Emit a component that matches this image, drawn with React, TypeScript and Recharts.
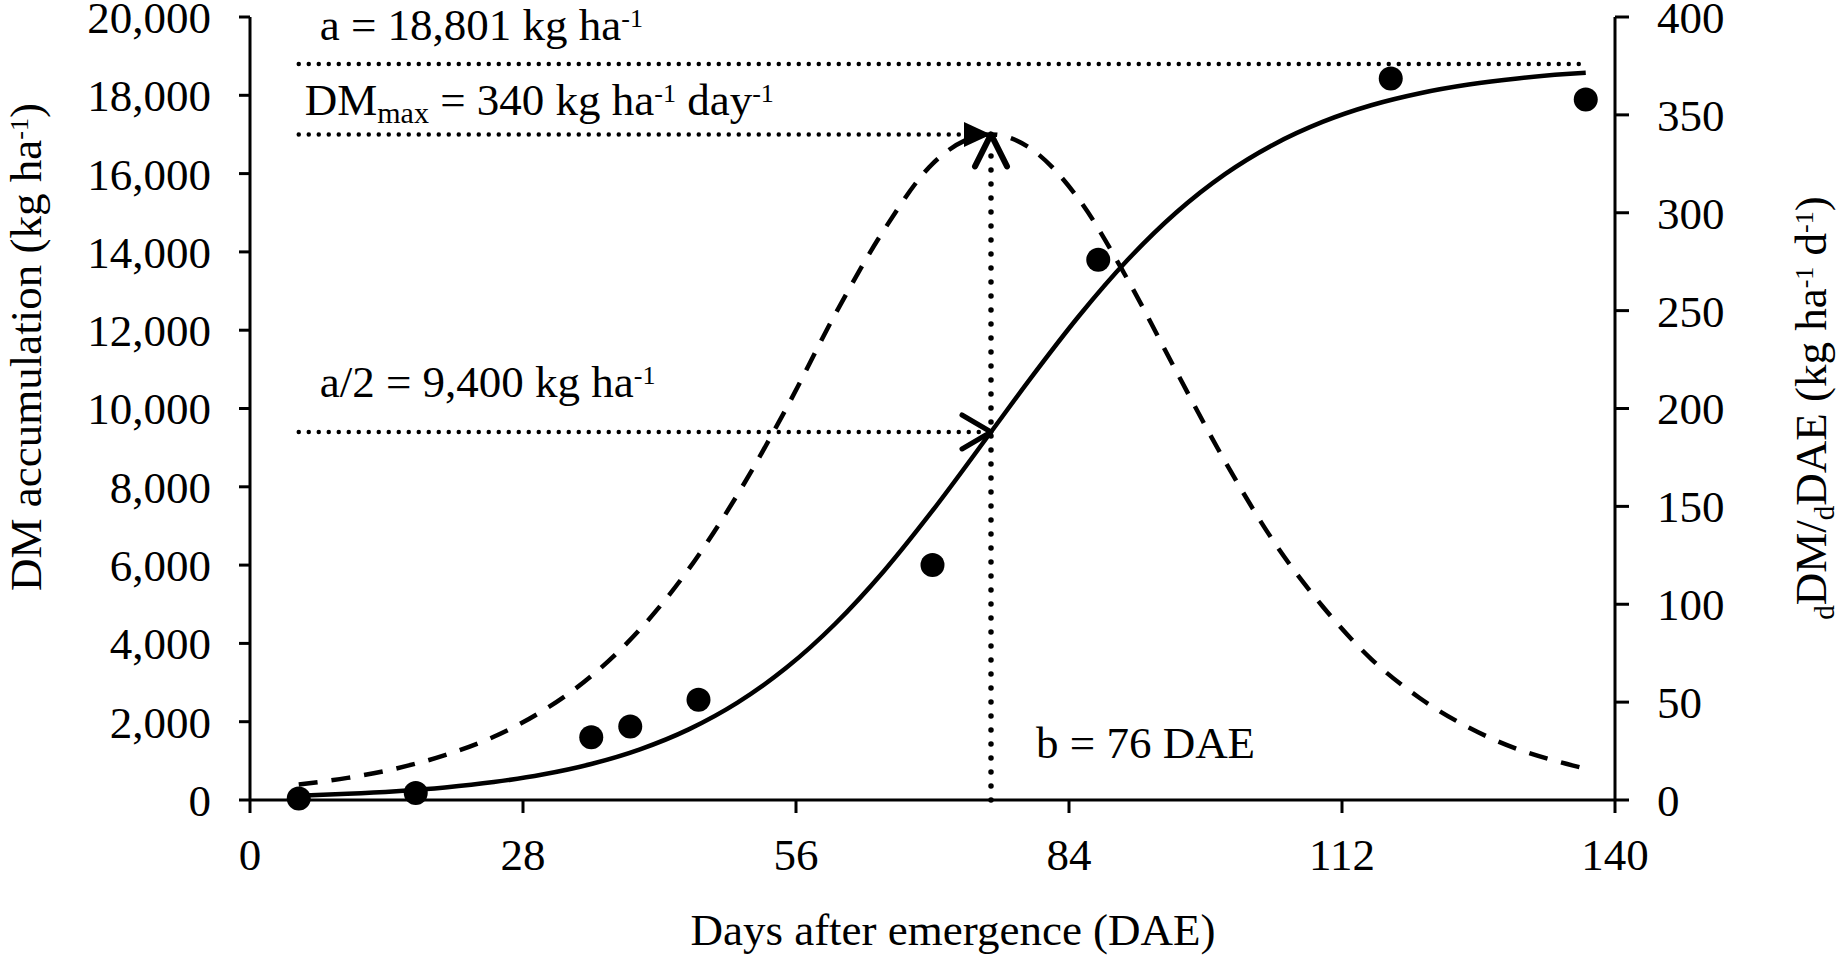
import React from "react";
import {
  ComposedChart,
  XAxis,
  YAxis,
  Line,
  Scatter,
  ReferenceLine,
  Label,
} from "recharts";

const curveDays = [5, 10, 15, 20, 25, 30, 35, 40, 45, 50, 55, 60, 65, 70, 76, 80, 85, 90, 95, 100, 105, 110, 115, 120, 125, 130, 135, 137];
// fitted DM accumulation (kg ha-1), solid line, left axis
const dmFitted = [110, 157, 225, 321, 458, 651, 920, 1294, 1804, 2487, 3375, 4495, 5844, 7390, 9400, 10751, 12357, 13792, 15006, 15986, 16746, 17321, 17746, 18053, 18274, 18431, 18542, 18576];
// DM rate (kg ha-1 d-1), dashed line, right axis
const rateFitted = [7.9, 11.3, 16.1, 22.9, 32.3, 45.5, 63.3, 87.2, 118, 156, 200, 248, 291, 325, 340, 333, 307, 266, 219, 173, 132, 99, 72, 52, 37, 26, 18.5, 16];

// measured DM accumulation
const obsDays = [5, 17, 35, 39, 46, 70, 87, 117, 137];
const obsDm = [40, 180, 1600, 1880, 2560, 6000, 13800, 18430, 17890];

const xTicks = [0, 28, 56, 84, 112, 140];
const leftTicks = [0, 2000, 4000, 6000, 8000, 10000, 12000, 14000, 16000, 18000, 20000];
const rightTicks = [0, 50, 100, 150, 200, 250, 300, 350, 400];

// fitted parameters marked on the chart
const aValue = 18801;
const halfA = 9400;
const bDay = 76;
const dmMax = 340;
const guideStart = 5;
const guideEnd = 137;

const fitRows = curveDays.map((d, i) => ({ dae: d, dm: dmFitted[i], rate: rateFitted[i] }));
const obsRows = obsDays.map((d, i) => ({ dae: d, dm: obsDm[i] }));

const FONT = "'Liberation Serif', 'Times New Roman', serif";
const FS = 45;
const SUP = 26; // superscript size
const SUB = 29; // subscript size
const UP = 13; // superscript raise

const tickStyle = { fontSize: FS, fontFamily: FONT, fill: "#000" };
const axisLine = { stroke: "#000", strokeWidth: 3 };

const dottedH = { stroke: "#000", strokeWidth: 4.5, strokeLinecap: "round" as const, strokeDasharray: "0 10" };
const dottedV = { stroke: "#000", strokeWidth: 5.5, strokeLinecap: "round" as const, strokeDasharray: "0 14" };

const txt = { fontFamily: FONT, fontSize: FS, fill: "#000" };

const aLine = (p: any) => {
  const left = Math.min(p.x1, p.x2);
  const right = Math.max(p.x1, p.x2);
  return (
    <g>
      <line x1={left} y1={p.y1} x2={right} y2={p.y1} {...dottedH} />
      <text x={left + 21} y={p.y1 - 24} {...txt}>
        <tspan>a = 18,801 kg ha</tspan>
        <tspan dy={-UP} fontSize={SUP}>-1</tspan>
      </text>
    </g>
  );
};

const maxLine = (p: any) => {
  const left = Math.min(p.x1, p.x2);
  const right = Math.max(p.x1, p.x2);
  const y = p.y1;
  return (
    <g>
      <line x1={left} y1={y} x2={right - 30} y2={y} {...dottedH} />
      <path d={`M${right - 27},${y - 12.5} L${right},${y} L${right - 27},${y + 12.5} Z`} fill="#000" />
      <text x={left + 6} y={y - 19} {...txt}>
        <tspan>DM</tspan>
        <tspan dy={8} fontSize={30}>max</tspan>
        <tspan dy={-8}> = 340 kg ha</tspan>
        <tspan dy={-UP} fontSize={SUP}>-1</tspan>
        <tspan dy={UP}> day</tspan>
        <tspan dy={-UP} fontSize={SUP}>-1</tspan>
      </text>
    </g>
  );
};

const halfLine = (p: any) => {
  const left = Math.min(p.x1, p.x2);
  const right = Math.max(p.x1, p.x2);
  const y = p.y1;
  return (
    <g>
      <line x1={left} y1={y} x2={right - 8} y2={y} {...dottedH} />
      <path
        d={`M${right - 29},${y - 17} L${right},${y} L${right - 29},${y + 17}`}
        fill="none"
        stroke="#000"
        strokeWidth={5}
        strokeLinecap="round"
        strokeLinejoin="round"
      />
      <text x={left + 21} y={y - 35} {...txt}>
        <tspan>a/2 = 9,400 kg ha</tspan>
        <tspan dy={-UP} fontSize={SUP}>-1</tspan>
      </text>
    </g>
  );
};

const bLine = (p: any) => {
  const x = p.x1;
  const top = Math.min(p.y1, p.y2);
  const bottom = Math.max(p.y1, p.y2);
  return (
    <g>
      <line x1={x} y1={bottom} x2={x} y2={top + 18} {...dottedV} />
      <path
        d={`M${x - 16},${top + 32} L${x},${top} L${x + 16},${top + 32}`}
        fill="none"
        stroke="#000"
        strokeWidth={6}
        strokeLinecap="round"
        strokeLinejoin="round"
      />
      <text x={x + 45} y={bottom - 42} {...txt}>
        b = 76 DAE
      </text>
    </g>
  );
};

const xTitle = () => (
  <text x={953} y={945} textAnchor="middle" {...txt}>
    Days after emergence (DAE)
  </text>
);

const leftTitle = () => (
  <text x={41} y={347} textAnchor="middle" transform="rotate(-90 41 347)" {...txt}>
    <tspan>DM accumulation (kg ha</tspan>
    <tspan dy={-UP} fontSize={SUP}>-1</tspan>
    <tspan dy={UP}>)</tspan>
  </text>
);

const rightTitle = () => (
  <text x={1826} y={408} textAnchor="middle" transform="rotate(-90 1826 408)" {...txt}>
    <tspan dy={8} fontSize={SUB}>d</tspan>
    <tspan dy={-8}>DM/</tspan>
    <tspan dy={8} fontSize={SUB}>d</tspan>
    <tspan dy={-8}>DAE (kg ha</tspan>
    <tspan dy={-UP} fontSize={SUP}>-1</tspan>
    <tspan dy={UP}> d</tspan>
    <tspan dy={-UP} fontSize={SUP}>-1</tspan>
    <tspan dy={UP}>)</tspan>
  </text>
);

const renderDot = (p: any) => <circle cx={p.cx} cy={p.cy} r={12} fill="#000" />;

export default function App() {
  return (
    <div style={{ position: "absolute", left: 0, top: 0, width: 1839, height: 955, background: "#fff" }}>
      <ComposedChart width={1839} height={955} margin={{ top: 17, right: 0, bottom: 0, left: 0 }}>
        <XAxis
          dataKey="dae"
          type="number"
          domain={[0, 140]}
          ticks={xTicks}
          height={155}
          tick={tickStyle}
          tickSize={13}
          tickMargin={25}
          axisLine={axisLine}
          tickLine={axisLine}
          interval={0}
        >
          <Label content={xTitle} />
        </XAxis>
        <YAxis
          yAxisId="left"
          dataKey="dm"
          type="number"
          domain={[0, 20000]}
          ticks={leftTicks}
          width={250}
          tick={tickStyle}
          tickSize={11}
          tickMargin={28}
          tickFormatter={(v: number) => v.toLocaleString("en-US")}
          axisLine={axisLine}
          tickLine={axisLine}
          interval={0}
        >
          <Label content={leftTitle} />
        </YAxis>
        <YAxis
          yAxisId="right"
          orientation="right"
          dataKey="rate"
          type="number"
          domain={[0, 400]}
          ticks={rightTicks}
          width={224}
          tick={tickStyle}
          tickSize={14}
          tickMargin={28}
          axisLine={axisLine}
          tickLine={axisLine}
          interval={0}
        >
          <Label content={rightTitle} />
        </YAxis>

        <Line
          data={fitRows}
          yAxisId="right"
          dataKey="rate"
          type="monotone"
          stroke="#000"
          strokeWidth={4.5}
          strokeDasharray="19 14"
          dot={false}
          activeDot={false}
          isAnimationActive={false}
        />
        <Line
          data={fitRows}
          yAxisId="left"
          dataKey="dm"
          type="monotone"
          stroke="#000"
          strokeWidth={4.5}
          dot={false}
          activeDot={false}
          isAnimationActive={false}
        />
        <Scatter data={obsRows} yAxisId="left" dataKey="dm" shape={renderDot} isAnimationActive={false} />

        <ReferenceLine
          yAxisId="left"
          segment={[{ x: guideStart, y: aValue }, { x: guideEnd, y: aValue }]}
          shape={aLine}
        />
        <ReferenceLine
          yAxisId="right"
          segment={[{ x: guideStart, y: dmMax }, { x: bDay, y: dmMax }]}
          shape={maxLine}
        />
        <ReferenceLine
          yAxisId="left"
          segment={[{ x: guideStart, y: halfA }, { x: bDay, y: halfA }]}
          shape={halfLine}
        />
        <ReferenceLine
          yAxisId="right"
          segment={[{ x: bDay, y: 0 }, { x: bDay, y: dmMax }]}
          shape={bLine}
        />
      </ComposedChart>
    </div>
  );
}
